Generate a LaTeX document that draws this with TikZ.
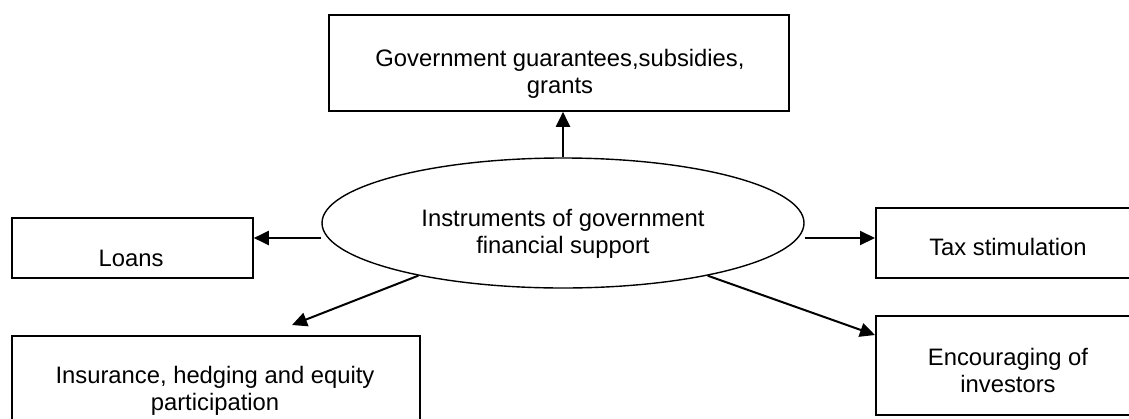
\documentclass[tikz,border=0pt]{standalone}
\usepackage{fontspec}
\setmainfont{Liberation Sans}
\usetikzlibrary{arrows.meta,shapes.geometric}
\begin{document}
\begin{tikzpicture}[x=1pt,y=-1pt,
  boxnode/.style={draw,line width=1.8pt,rectangle,inner sep=0pt,anchor=north west},
  ellnode/.style={draw,line width=1.4pt,ellipse,inner sep=0pt,minimum width=482pt,minimum height=130pt},
  txt/.style={align=center,inner sep=0pt,font=\fontsize{23.8}{27.2}\selectfont},
  arr/.style={line width=2pt,-{Triangle[length=15pt,width=14pt]}}]
\clip (0,0) rectangle (1129,418);
\fill[white] (0,0) rectangle (1129,418);
% boxes
\node[boxnode,minimum width=460pt,minimum height=96pt] (top) at (328,14) {};
\node[boxnode,minimum width=241pt,minimum height=60pt] (loans) at (11,217) {};
\node[boxnode,minimum width=408pt,minimum height=110pt] (ins) at (11,335) {};
\node[boxnode,minimum width=270pt,minimum height=99pt] (enc) at (875,315) {};
\node[boxnode,minimum width=270pt,minimum height=70pt] (tax) at (875,207) {};
\node[ellnode] (ell) at (563,223) {};
% texts
\node[txt] (toptxt) at (560,74) {Government guarantees,subsidies,\\grants};
\node[txt] (elltxt) at (563,234) {Instruments of government\\financial support};
\node[txt,anchor=base] (loanstxt) at (131,266) {Loans};
\node[txt,anchor=base] (taxtxt) at (1008,255) {Tax stimulation};
\node[txt] (enctxt) at (1008,370.5) {Encouraging of\\investors};
\node[txt] (instxt) at (215,390.5) {Insurance, hedging and equity\\participation};
% arrows
\coordinate (insTip) at (292,325);
\draw[arr] (ell.north) -- (ell.north |- top.south);
\draw[arr] ([yshift=-15pt]ell.west) -- ([yshift=-15pt]ell.west -| loans.east);
\draw[arr] ([yshift=-15pt]ell.east) -- ([yshift=-15pt]ell.east -| tax.west);
\draw[arr] (ell.200) -- (insTip);
\draw[arr] (ell.-20) -- ([yshift=-20pt]enc.north west);
\end{tikzpicture}
\end{document}
